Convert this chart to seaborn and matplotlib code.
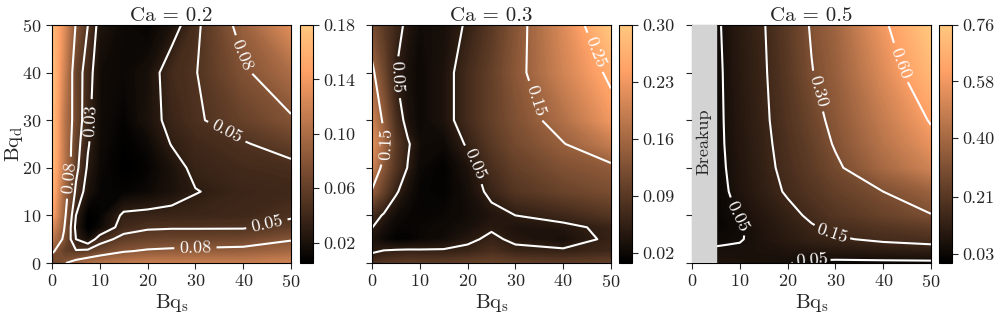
import numpy as np
import matplotlib
matplotlib.use("Agg")
import matplotlib.pyplot as plt
import seaborn as sns
from matplotlib.colors import Normalize
from matplotlib.cm import ScalarMappable

# grid of the maps (Bq_s across, Bq_d up)
bq_s = [0, 2.5, 5, 7.5, 10, 15, 20, 25, 30, 40, 50]
bq_s_ca05 = [5, 7.5, 10, 15, 20, 25, 30, 40, 50]
bq_d = [0, 2.5, 5, 7.5, 10, 15, 20, 25, 30, 40, 50]

# rows follow bq_d, columns follow bq_s
field_ca02 = [
    [0.060, 0.078, 0.090, 0.100, 0.105, 0.110, 0.115, 0.115, 0.115, 0.115, 0.120],
    [0.085, 0.060, 0.052, 0.055, 0.065, 0.078, 0.083, 0.085, 0.086, 0.088, 0.095],
    [0.110, 0.075, 0.030, 0.015, 0.040, 0.058, 0.062, 0.064, 0.064, 0.066, 0.078],
    [0.130, 0.082, 0.025, 0.003, 0.012, 0.040, 0.047, 0.048, 0.048, 0.048, 0.058],
    [0.150, 0.088, 0.030, 0.004, 0.008, 0.034, 0.036, 0.037, 0.038, 0.040, 0.047],
    [0.165, 0.095, 0.046, 0.020, 0.010, 0.008, 0.012, 0.020, 0.029, 0.038, 0.040],
    [0.170, 0.110, 0.056, 0.027, 0.012, 0.004, 0.008, 0.020, 0.036, 0.042, 0.044],
    [0.175, 0.110, 0.060, 0.032, 0.014, 0.006, 0.012, 0.031, 0.040, 0.048, 0.060],
    [0.175, 0.110, 0.066, 0.035, 0.015, 0.008, 0.020, 0.037, 0.047, 0.062, 0.077],
    [0.175, 0.120, 0.062, 0.040, 0.015, 0.012, 0.018, 0.042, 0.049, 0.076, 0.100],
    [0.170, 0.130, 0.078, 0.050, 0.022, 0.012, 0.008, 0.020, 0.045, 0.090, 0.130],
]

field_ca03 = [
    [0.075, 0.085, 0.090, 0.095, 0.095, 0.095, 0.100, 0.105, 0.100, 0.095, 0.100],
    [0.045, 0.052, 0.055, 0.056, 0.055, 0.055, 0.060, 0.075, 0.060, 0.056, 0.065],
    [0.035, 0.020, 0.010, 0.012, 0.018, 0.025, 0.042, 0.058, 0.042, 0.030, 0.058],
    [0.051, 0.030, 0.018, 0.015, 0.018, 0.022, 0.030, 0.045, 0.035, 0.040, 0.060],
    [0.070, 0.045, 0.025, 0.018, 0.015, 0.018, 0.025, 0.038, 0.050, 0.065, 0.085],
    [0.145, 0.100, 0.055, 0.030, 0.015, 0.012, 0.028, 0.060, 0.085, 0.105, 0.120],
    [0.200, 0.130, 0.085, 0.048, 0.020, 0.010, 0.035, 0.075, 0.100, 0.125, 0.140],
    [0.220, 0.160, 0.090, 0.055, 0.025, 0.020, 0.055, 0.090, 0.115, 0.148, 0.190],
    [0.200, 0.140, 0.075, 0.035, 0.020, 0.035, 0.070, 0.100, 0.125, 0.170, 0.230],
    [0.160, 0.110, 0.050, 0.030, 0.020, 0.035, 0.070, 0.100, 0.135, 0.200, 0.260],
    [0.120, 0.090, 0.065, 0.040, 0.025, 0.030, 0.055, 0.090, 0.130, 0.210, 0.300],
]

# Ca = 0.5 breaks up for Bq_s < 5, so its columns follow bq_s_ca05
field_ca05 = [
    [0.070, 0.070, 0.068, 0.060, 0.052, 0.040, 0.035, 0.035, 0.035],
    [0.060, 0.062, 0.062, 0.068, 0.075, 0.085, 0.090, 0.100, 0.110],
    [0.035, 0.040, 0.045, 0.075, 0.100, 0.125, 0.140, 0.165, 0.180],
    [0.020, 0.028, 0.042, 0.080, 0.110, 0.142, 0.170, 0.200, 0.230],
    [0.020, 0.035, 0.055, 0.090, 0.125, 0.165, 0.200, 0.250, 0.295],
    [0.022, 0.048, 0.075, 0.115, 0.160, 0.200, 0.240, 0.300, 0.370],
    [0.024, 0.055, 0.080, 0.125, 0.175, 0.225, 0.280, 0.400, 0.500],
    [0.026, 0.060, 0.085, 0.130, 0.185, 0.240, 0.310, 0.440, 0.560],
    [0.028, 0.062, 0.090, 0.135, 0.195, 0.260, 0.330, 0.470, 0.610],
    [0.030, 0.065, 0.095, 0.140, 0.210, 0.295, 0.360, 0.530, 0.700],
    [0.035, 0.070, 0.100, 0.145, 0.220, 0.310, 0.380, 0.580, 0.760],
]

ca_values = [0.2, 0.3, 0.5]
color_ranges = [(0.005, 0.18), (0.008, 0.30), (0.0, 0.76)]
cbar_ticks = [
    [0.02, 0.06, 0.10, 0.14, 0.18],
    [0.02, 0.09, 0.16, 0.23, 0.30],
    [0.03, 0.21, 0.40, 0.58, 0.76],
]
line_levels = [[0.03, 0.05, 0.08], [0.05, 0.15, 0.25], [0.05, 0.15, 0.30, 0.60]]
breakup_limit = 5

# where the contour labels sit
label_spots = [
    [(3, 18), (8, 30), (36, 26.5), (41, 44), (45, 8), (30, 3)],
    [(5, 39), (3, 25), (22, 21), (34, 34), (46, 44)],
    [(10, 10), (29, 5.5), (25, 1), (26, 36), (43.5, 42)],
]

sns.set_style("ticks")
plt.rcParams.update({
    "font.family": ["cmr10", "DejaVu Serif"],
    "mathtext.fontset": "cm",
    "axes.formatter.use_mathtext": True,
    "axes.unicode_minus": False,
    "font.size": 13,
    "xtick.direction": "out",
    "ytick.direction": "out",
    "xtick.major.size": 4,
    "ytick.major.size": 4,
    "axes.linewidth": 0.8,
    "axes.edgecolor": "black",
})

cmap = sns.color_palette("copper", as_cmap=True)

fig = plt.figure(figsize=(9.97, 3.16), dpi=100)
ax_left = [0.0522, 0.3731, 0.6941]
cb_left = [0.3009, 0.6209, 0.9418]
bottom, height, width = 0.1677, 0.7532, 0.2397

fields = [field_ca02, field_ca03, field_ca05]
xgrids = [bq_s, bq_s, bq_s_ca05]

for i, ca in enumerate(ca_values):
    ax = fig.add_axes([ax_left[i], bottom, width, height])
    z = np.array(fields[i])
    lo, hi = color_ranges[i]
    norm = Normalize(lo, hi)
    fill_levels = np.linspace(min(lo, z.min()), max(hi, z.max()), 150)
    ax.contourf(xgrids[i], bq_d, z, levels=fill_levels, cmap=cmap, norm=norm)
    cs = ax.contour(xgrids[i], bq_d, z, levels=line_levels[i], colors="white",
                    linewidths=1.5)
    ax.clabel(cs, inline=True, fmt="%.2f", fontsize=13, colors="white",
              manual=label_spots[i])

    if i == 2:
        ax.axvspan(0, breakup_limit, color="lightgray", zorder=3)
        ax.text(breakup_limit / 2, 25.5, "Breakup", rotation=90, ha="center",
                va="center", fontsize=13, zorder=4)

    ax.set_xlim(0, 50)
    ax.set_ylim(0, 50)
    ax.set_xticks(range(0, 51, 10))
    ax.set_yticks(range(0, 51, 10))
    ax.set_title(f"Ca = {ca}", fontsize=15, pad=3)
    ax.set_xlabel(r"$\mathrm{Bq_s}$", fontsize=15, labelpad=1)
    if i == 0:
        ax.set_ylabel(r"$\mathrm{Bq_d}$", fontsize=15)
        ax.yaxis.set_label_coords(-0.115, 0.5)
    else:
        ax.set_yticklabels([])

    cax = fig.add_axes([cb_left[i], bottom, 0.013, height])
    cb = fig.colorbar(ScalarMappable(norm=norm, cmap=cmap), cax=cax)
    cb.set_ticks(cbar_ticks[i])
    cb.ax.set_yticklabels([f"{t:.2f}" for t in cbar_ticks[i]])
    cb.ax.tick_params(length=4, width=0.8)
    cb.outline.set_linewidth(0.8)

fig.savefig("out.png", dpi=100)
